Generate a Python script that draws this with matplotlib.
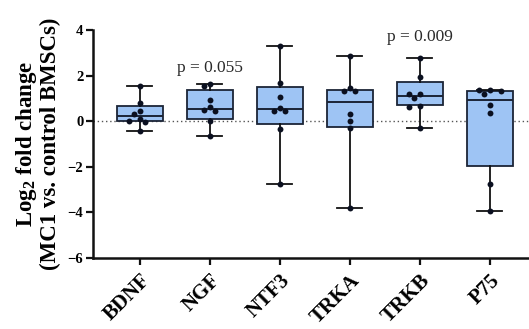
import numpy as np
import matplotlib
matplotlib.use("Agg")
import matplotlib.pyplot as plt

plt.rcParams["mathtext.fontset"] = "custom"
plt.rcParams["mathtext.rm"] = "Liberation Serif"
plt.rcParams["mathtext.bf"] = "Liberation Serif:bold"
plt.rcParams["mathtext.it"] = "Liberation Serif:italic"

categories = ["BDNF", "NGF", "NTF3", "TRKA", "TRKB", "P75"]

# individual points (log2 fold change)
points = {
    "BDNF": [1.56, 0.78, 0.45, 0.33, 0.10, 0.03, -0.02, -0.43],
    "NGF":  [1.65, 1.53, 0.92, 0.61, 0.49, 0.46, 0.00, -0.64],
    "NTF3": [3.31, 1.69, 1.05, 0.58, 0.46, 0.46, -0.34, -2.75],
    "TRKA": [2.87, 1.46, 1.34, 1.34, 0.33, 0.02, -0.31, -3.82],
    "TRKB": [2.76, 1.94, 1.21, 1.18, 1.00, 0.67, 0.63, -0.28],
    "P75":  [1.38, 1.36, 1.33, 1.18, 0.70, 0.36, -2.75, -3.92],
}
# box statistics
q1 =      [0.00, 0.11, -0.14, -0.24, 0.70, -1.96]
medians = [0.23, 0.55, 0.52, 0.83, 1.09, 0.93]
q3 =      [0.67, 1.35, 1.49, 1.38, 1.72, 1.32]
wlo =     [-0.43, -0.64, -2.75, -3.82, -0.28, -3.92]
whi =     [1.56, 1.65, 3.31, 2.87, 2.76, 1.38]

annotations = {"NGF": "p = 0.055", "TRKB": "p = 0.009"}
annot_y = {"NGF": 2.35, "TRKB": 3.68}

W, H = 529, 329
fig = plt.figure(figsize=(W / 100, H / 100), dpi=100)
ax = fig.add_axes([93 / W, 1 - 258 / H, (W - 93) / W, (258 - 30) / H])

serif = ["Liberation Serif", "DejaVu Serif"]
edge = "#1b2436"
fill = "#9ec4f4"

stats = []
for i, c in enumerate(categories):
    stats.append(dict(med=medians[i], q1=q1[i], q3=q3[i],
                      whislo=wlo[i], whishi=whi[i], fliers=[], label=c))
pos = np.arange(len(categories))
ax.bxp(stats, positions=pos, widths=0.65, capwidths=0.36, patch_artist=True,
       showfliers=False,
       boxprops=dict(facecolor=fill, edgecolor=edge, linewidth=1.3),
       medianprops=dict(color=edge, linewidth=1.4),
       whiskerprops=dict(color="#111111", linewidth=1.3),
       capprops=dict(color="#111111", linewidth=1.3), zorder=2)

ax.axhline(0, color="#555555", linestyle=(0, (1, 2)), linewidth=1.0, zorder=1)

# deterministic beeswarm placement
px_x = 70.0   # pixels per x unit
px_y = 22.8   # pixels per y unit
dia = 5.8
for i, c in enumerate(categories):
    vals = sorted(points[c], reverse=True)
    placed = []
    for v in vals:
        for k in [0, -1, 1, -2, 2, -3, 3]:
            ox = k * dia * 0.95
            ok = True
            for (px, py) in placed:
                if np.hypot(px - ox, (py - v) * px_y) < dia:
                    ok = False
                    break
            if ok:
                placed.append((ox, v))
                break
    xs = [i + p[0] / px_x for p in placed]
    ys = [p[1] for p in placed]
    ax.scatter(xs, ys, s=18, color="#0b1020", zorder=4, linewidths=0)

for c, t in annotations.items():
    ax.text(categories.index(c), annot_y[c], t, ha="center", va="center",
            fontsize=12.5, family=serif, color="#2a2a2a")

ax.set_xlim(-0.67, 5.56)
ax.set_ylim(-6, 4)
ax.set_yticks([-6, -4, -2, 0, 2, 4])
ax.set_xticks(pos)
ax.set_xticklabels(categories, rotation=45, ha="right", rotation_mode="anchor",
                   fontsize=15, fontweight="bold", family=serif)
for lab in ax.get_yticklabels():
    lab.set_fontfamily(serif)
    lab.set_fontweight("bold")
    lab.set_fontsize(10.5)

for s in ["top", "right"]:
    ax.spines[s].set_visible(False)
for s in ["left", "bottom"]:
    ax.spines[s].set_linewidth(1.8)
    ax.spines[s].set_color("#111111")
ax.tick_params(axis="both", width=1.6, length=5, color="#111111")
ax.tick_params(axis="x", pad=4)
ax.tick_params(axis="y", pad=2)

ax.set_ylabel("Log$_\\mathbf{2}$ fold change\n(MC1 vs. control BMSCs)",
              fontsize=16.5, fontweight="bold", family=serif, linespacing=1.0,
              labelpad=5)

fig.savefig("out.png", dpi=100)
